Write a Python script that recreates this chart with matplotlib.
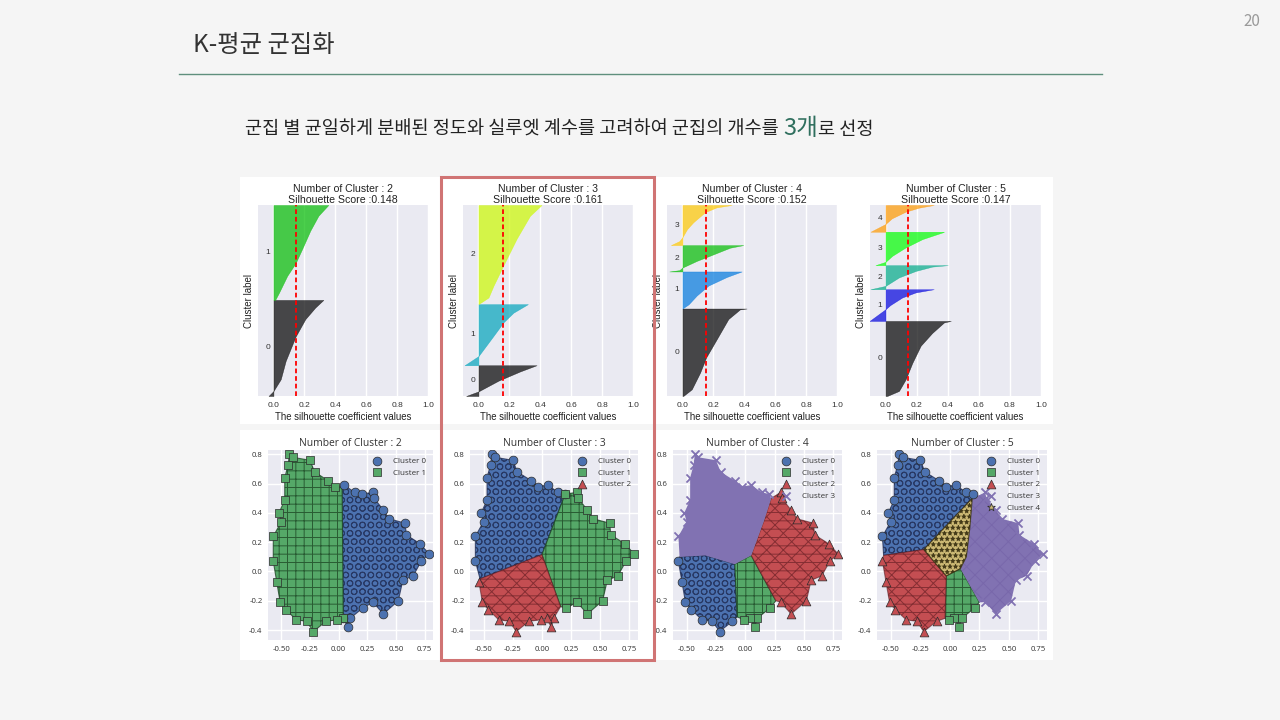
import matplotlib
matplotlib.use('Agg')
import matplotlib.pyplot as plt
import numpy as np
from matplotlib.patches import Polygon, Rectangle
from matplotlib import cm

plt.rcParams['axes.unicode_minus'] = False
plt.rcParams['hatch.linewidth'] = 0.7

# ---------------- data ----------------
TITLE = "K-평균 군집화"
SUB_A = "군집 별 균일하게 분배된 정도와 실루엣 계수를 고려하여 군집의 개수를 "
SUB_B = "3개"
SUB_C = "로 선정"
PAGE = "20"

SIL_K = [2, 3, 4, 5]
SIL_SCORE = [0.148, 0.161, 0.152, 0.147]
SIL_XTICKS = [0.0, 0.2, 0.4, 0.6, 0.8, 1.0]
# relative cluster sizes (share of samples, %)
SIL_SIZES = [
    [50.3, 49.7],
    [16.1, 32.0, 51.9],
    [45.8, 19.4, 13.8, 21.0],
    [39.3, 16.6, 12.6, 17.5, 14.0],
]
# sorted silhouette profile of each cluster: position within cluster (0..1) -> value
SIL_FRAC = [
    [[0, 0.052, 0.174, 0.365, 0.618, 0.8, 0.92, 1.0],
     [0, 0.077, 0.254, 0.387, 0.535, 0.729, 0.887, 1.0]],
    [[0, 0.15, 0.5, 0.8, 1.0],
     [0, 0.15, 0.48, 0.70, 0.86, 1.0],
     [0, 0.067, 0.185, 0.39, 0.66, 0.89, 1.0]],
    [[0, 0.076, 0.267, 0.44, 0.65, 0.88, 0.99, 1.0],
     [0, 0.115, 0.35, 0.62, 0.85, 1.0],
     [0, 0.05, 0.15, 0.4, 0.65, 0.9, 1.0],
     [0, 0.1, 0.2, 0.4, 0.57, 0.82, 0.94, 1.0]],
    [[0, 0.067, 0.22, 0.44, 0.67, 0.84, 0.98, 1.0],
     [0, 0.37, 0.5, 0.74, 0.9, 1.0],
     [0, 0.14, 0.49, 0.76, 0.94, 1.0],
     [0, 0.1, 0.28, 0.53, 0.78, 0.98, 1.0],
     [0, 0.29, 0.5, 0.75, 0.9, 1.0]],
]
SIL_VAL = [
    [[-0.032, 0.0, 0.047, 0.079, 0.143, 0.206, 0.27, 0.323],
     [0.011, 0.036, 0.089, 0.143, 0.185, 0.238, 0.291, 0.355]],
    [[-0.08, 0.0, 0.13, 0.27, 0.376],
     [-0.09, 0.0, 0.097, 0.161, 0.226, 0.32],
     [0.0, 0.065, 0.097, 0.161, 0.247, 0.333, 0.408]],
    [[0.005, 0.06, 0.114, 0.153, 0.222, 0.297, 0.372, 0.415],
     [0.0, 0.04, 0.092, 0.168, 0.286, 0.383],
     [-0.085, -0.02, 0.0, 0.092, 0.2, 0.307, 0.394],
     [-0.075, -0.02, 0.0, 0.03, 0.07, 0.146, 0.22, 0.318]],
    [[0.01, 0.086, 0.129, 0.172, 0.226, 0.30, 0.376, 0.42],
     [-0.103, 0.0, 0.03, 0.107, 0.194, 0.31],
     [-0.097, 0.0, 0.086, 0.194, 0.30, 0.40],
     [-0.065, 0.0, 0.043, 0.129, 0.237, 0.366, 0.376],
     [-0.097, 0.0, 0.04, 0.129, 0.215, 0.31]],
]

# outline of the 2-D (PCA) point cloud, read clockwise from the top-left
HULL_X = [-0.43, -0.40, -0.25, -0.21, -0.09, -0.03, 0.05, 0.14, 0.20, 0.30,
          0.31, 0.39, 0.44, 0.58, 0.59, 0.71, 0.79, 0.72, 0.65, 0.56,
          0.52, 0.39, 0.30, 0.21, 0.10, 0.08, 0.04, -0.01, -0.11, -0.22,
          -0.28, -0.37, -0.46, -0.51, -0.54, -0.57, -0.57, -0.50, -0.52, -0.47,
          -0.47, -0.44]
HULL_Y = [0.80, 0.78, 0.76, 0.68, 0.62, 0.58, 0.59, 0.54, 0.53, 0.54,
          0.50, 0.42, 0.36, 0.33, 0.25, 0.19, 0.12, 0.07, -0.03, -0.06,
          -0.20, -0.29, -0.21, -0.25, -0.32, -0.38, -0.32, -0.33, -0.34, -0.41,
          -0.34, -0.33, -0.26, -0.21, -0.07, 0.07, 0.24, 0.34, 0.40, 0.49,
          0.64, 0.73]

# cluster regions: ints = hull vertex index, tuples = boundary points between clusters
def rng(a, b):
    return list(range(a, b + 1))

SC_K = [2, 3, 4, 5]
SC_REGIONS = [
    [  # k = 2
        [(0.03, 0.585)] + rng(6, 26),
        [(0.03, 0.585)] + rng(26, 41) + rng(0, 5),
    ],
    [  # k = 3
        rng(35, 41) + rng(0, 8) + [(0.0, 0.115), (-0.53, -0.05)],
        rng(8, 23) + [(0.16, -0.24), (0.0, 0.115)],
        rng(24, 34) + [(-0.53, -0.05), (0.0, 0.115), (0.16, -0.24)],
    ],
    [  # k = 4
        rng(28, 35) + [(-0.56, 0.10), (-0.34, 0.11), (-0.09, 0.05), (-0.07, -0.31)],
        rng(23, 27) + [(-0.07, -0.31), (-0.09, 0.05), (0.05, 0.11), (0.26, -0.20)],
        rng(9, 22) + [(0.26, -0.20), (0.05, 0.11), (0.16, 0.35), (0.22, 0.50)],
        rng(36, 41) + rng(0, 8) + [(0.22, 0.50), (0.16, 0.35), (0.05, 0.11),
                                   (-0.09, 0.05), (-0.34, 0.11), (-0.56, 0.10)],
    ],
    [  # k = 5
        rng(36, 41) + rng(0, 8) + [(0.19, 0.50), (-0.22, 0.15), (-0.56, 0.11)],
        rng(23, 27) + [(-0.04, -0.32), (-0.03, -0.03), (0.09, 0.02), (0.25, -0.21)],
        rng(28, 35) + [(-0.56, 0.11), (-0.22, 0.15), (-0.03, -0.03), (-0.04, -0.32)],
        rng(9, 22) + [(0.25, -0.21), (0.09, 0.02), (0.14, 0.10), (0.17, 0.30), (0.19, 0.50)],
        [(-0.22, 0.15), (0.19, 0.50), (0.17, 0.30), (0.14, 0.10), (0.09, 0.02), (-0.03, -0.03)],
    ],
]
SC_LABELS = ["Cluster 0", "Cluster 1", "Cluster 2", "Cluster 3", "Cluster 4"]
SC_XTICKS = [-0.50, -0.25, 0.00, 0.25, 0.50, 0.75]
SC_YTICKS = [-0.4, -0.2, 0.0, 0.2, 0.4, 0.6, 0.8]

# ---------------- styles ----------------
MARKERS = ['o', 's', '^', 'x', '*']
COLORS = ['#4C72B0', '#55A868', '#C44E52', '#8172B2', '#CCB974']
HATCH = ['OO', '++', '--//\\\\', 'xx', '***']
HATCH_COL = [(0.12, 0.17, 0.32, 0.75), (0.1, 0.26, 0.13, 0.75), (0.32, 0.08, 0.1, 0.55),
             (0.45, 0.38, 0.65, 0.6), (0.2, 0.17, 0.05, 0.8)]

W, H = 1280, 720
BG = '#f5f5f5'
fig = plt.figure(figsize=(12.8, 7.2), dpi=100, facecolor=BG)


def px_axes(x0, y0, x1, y1):
    return fig.add_axes([x0 / W, 1 - y1 / H, (x1 - x0) / W, (y1 - y0) / H])


def fig_rect(x0, y0, x1, y1, **kw):
    r = Rectangle((x0 / W, 1 - y1 / H), (x1 - x0) / W, (y1 - y0) / H,
                  transform=fig.transFigure, **kw)
    fig.patches.append(r)
    return r


# ---------------- slide header ----------------
KFONT = ['Noto Sans CJK KR', 'DejaVu Sans']
fig.text(193 / W, 1 - 45 / H, TITLE, fontsize=17.5, color='#333333',
         family=KFONT, va='center', ha='left')
fig.add_artist(plt.Line2D([179 / W, 1102 / W], [1 - 74 / H, 1 - 74 / H],
                          transform=fig.transFigure, color='#5f8f7d', lw=1.0))
fig.text(1252 / W, 1 - 21 / H, PAGE, fontsize=11, color='#9a9a9a',
         family=KFONT, va='center', ha='center')

base_y = 1 - 135 / H
tA = fig.text(245 / W, base_y, SUB_A, fontsize=13.4, color='#222222',
              family=KFONT, va='baseline', ha='left')
fig.canvas.draw()
r = fig.canvas.get_renderer()
xa = tA.get_window_extent(r).x1
tB = fig.text(xa / W, base_y, SUB_B, fontsize=17, color='#2f6f5e',
              family=KFONT, va='baseline', ha='left')
xb = tB.get_window_extent(r).x1
fig.text(xb / W, base_y, SUB_C, fontsize=13.4, color='#222222',
         family=KFONT, va='baseline', ha='left')

# ---------------- white panel ----------------
fig_rect(240, 177, 1053, 424, facecolor='white', edgecolor='none', zorder=-5)
fig_rect(240, 430, 1053, 660, facecolor='white', edgecolor='none', zorder=-5)

TOP_POS = [(258, 205, 428, 396), (463, 205, 633, 396),
           (667, 205, 837, 396), (870, 205, 1041, 396)]
BOT_POS = [(268, 450, 433, 640), (470, 450, 638, 640),
           (673, 450, 842, 640), (877, 450, 1047, 640)]

TFONT = ['Liberation Sans', 'DejaVu Sans']
BFONT = ['Open Sans', 'DejaVu Sans']

# ---------------- silhouette plots ----------------
for j, k in enumerate(SIL_K):
    ax = px_axes(*TOP_POS[j])
    ax.set_facecolor('#EAEAF2')
    for s in ax.spines.values():
        s.set_visible(False)
    total = sum(SIL_SIZES[j])
    ax.set_xlim(-0.1, 1.0)
    ax.set_ylim(0, total)
    ax.set_xticks(SIL_XTICKS)
    ax.set_xticklabels([f"{t:.1f}" for t in SIL_XTICKS], family=TFONT)
    ax.set_yticks([])
    ax.grid(axis='x', color='white', lw=1.0)
    ax.set_axisbelow(True)
    ax.tick_params(length=0, labelsize=6.0, colors='#333333', pad=4.5)
    y_lower = 0.0
    for i in range(k):
        size = SIL_SIZES[j][i]
        yy = y_lower + np.array(SIL_FRAC[j][i]) * size
        vv = np.array(SIL_VAL[j][i])
        col = cm.nipy_spectral(float(i) / k)
        ax.fill_betweenx(yy, 0, vv, facecolor=col, edgecolor=col, alpha=0.7, lw=0.3)
        ax.text(-0.05, y_lower + 0.5 * size, str(i), fontsize=6.0, family=TFONT,
                color='#333333', va='center')
        y_lower += size
    ax.axvline(SIL_SCORE[j], color='red', linestyle=(0, (2.6, 1.6)), lw=1.3)
    ax.set_title(f"Number of Cluster : {k}\nSilhouette Score :{SIL_SCORE[j]:.3f}",
                 fontsize=7.6, family=TFONT, color='#222222', pad=1.5, linespacing=1.12)
    ax.set_xlabel("The silhouette coefficient values", fontsize=6.9, family=TFONT,
                  color='#222222', labelpad=2)
    ax.set_ylabel("Cluster label", fontsize=7.0, family=TFONT, color='#222222', labelpad=3)

# ---------------- cluster scatter plots ----------------
HX = np.array(HULL_X)
HY = np.array(HULL_Y)
for j, k in enumerate(SC_K):
    ax = px_axes(*BOT_POS[j])
    ax.set_facecolor('#EAEAF2')
    for s in ax.spines.values():
        s.set_visible(False)
    ax.set_xlim(-0.616, 0.823)
    ax.set_ylim(-0.468, 0.83)
    ax.set_xticks(SC_XTICKS)
    ax.set_xticklabels([f"{t:.2f}" for t in SC_XTICKS], family=BFONT)
    ax.set_yticks(SC_YTICKS)
    ax.set_yticklabels([f"{t:.1f}" for t in SC_YTICKS], family=BFONT)
    ax.grid(color='white', lw=1.0)
    ax.set_axisbelow(True)
    ax.tick_params(length=0, labelsize=5.6, colors='#333333', pad=4)
    for i in range(k):
        reg = SC_REGIONS[j][i]
        xs = [HX[p] if isinstance(p, int) else p[0] for p in reg]
        ys = [HY[p] if isinstance(p, int) else p[1] for p in reg]
        solid = (i == 3 and k == 4)
        poly = Polygon(np.column_stack([xs, ys]), closed=True, facecolor=COLORS[i],
                       edgecolor=HATCH_COL[i], hatch=None if solid else HATCH[i],
                       lw=0.0 if i == 3 else 0.8, zorder=2)
        ax.add_patch(poly)
        hx = [HX[p] for p in reg if isinstance(p, int)]
        hy = [HY[p] for p in reg if isinstance(p, int)]
        if MARKERS[i] == 'x':
            ax.scatter(hx, hy, marker='x', s=34, color=COLORS[i], lw=1.3, zorder=3,
                       label=SC_LABELS[i])
        else:
            ax.scatter(hx, hy, marker=MARKERS[i], s=40 if i < 4 else 34, color=COLORS[i],
                       edgecolors='#2b2b2b', linewidths=0.5, zorder=3,
                       label=SC_LABELS[i])
    leg = ax.legend(loc='upper right', frameon=False, prop={'family': BFONT, 'size': 5.8},
                    markerscale=1.0, handletextpad=0.9, labelspacing=0.5,
                    borderaxespad=0.5, scatterpoints=1)
    for t in leg.get_texts():
        t.set_color('#333333')
    ax.set_title(f"Number of Cluster : {k}", fontsize=7.4, family=BFONT,
                 color='#333333', pad=3)

# ---------------- highlight box ----------------
fig_rect(441, 177, 654, 660, facecolor='none', edgecolor='#d07474', lw=2.2, zorder=10)

fig.savefig('out.png', dpi=100, facecolor=BG)
